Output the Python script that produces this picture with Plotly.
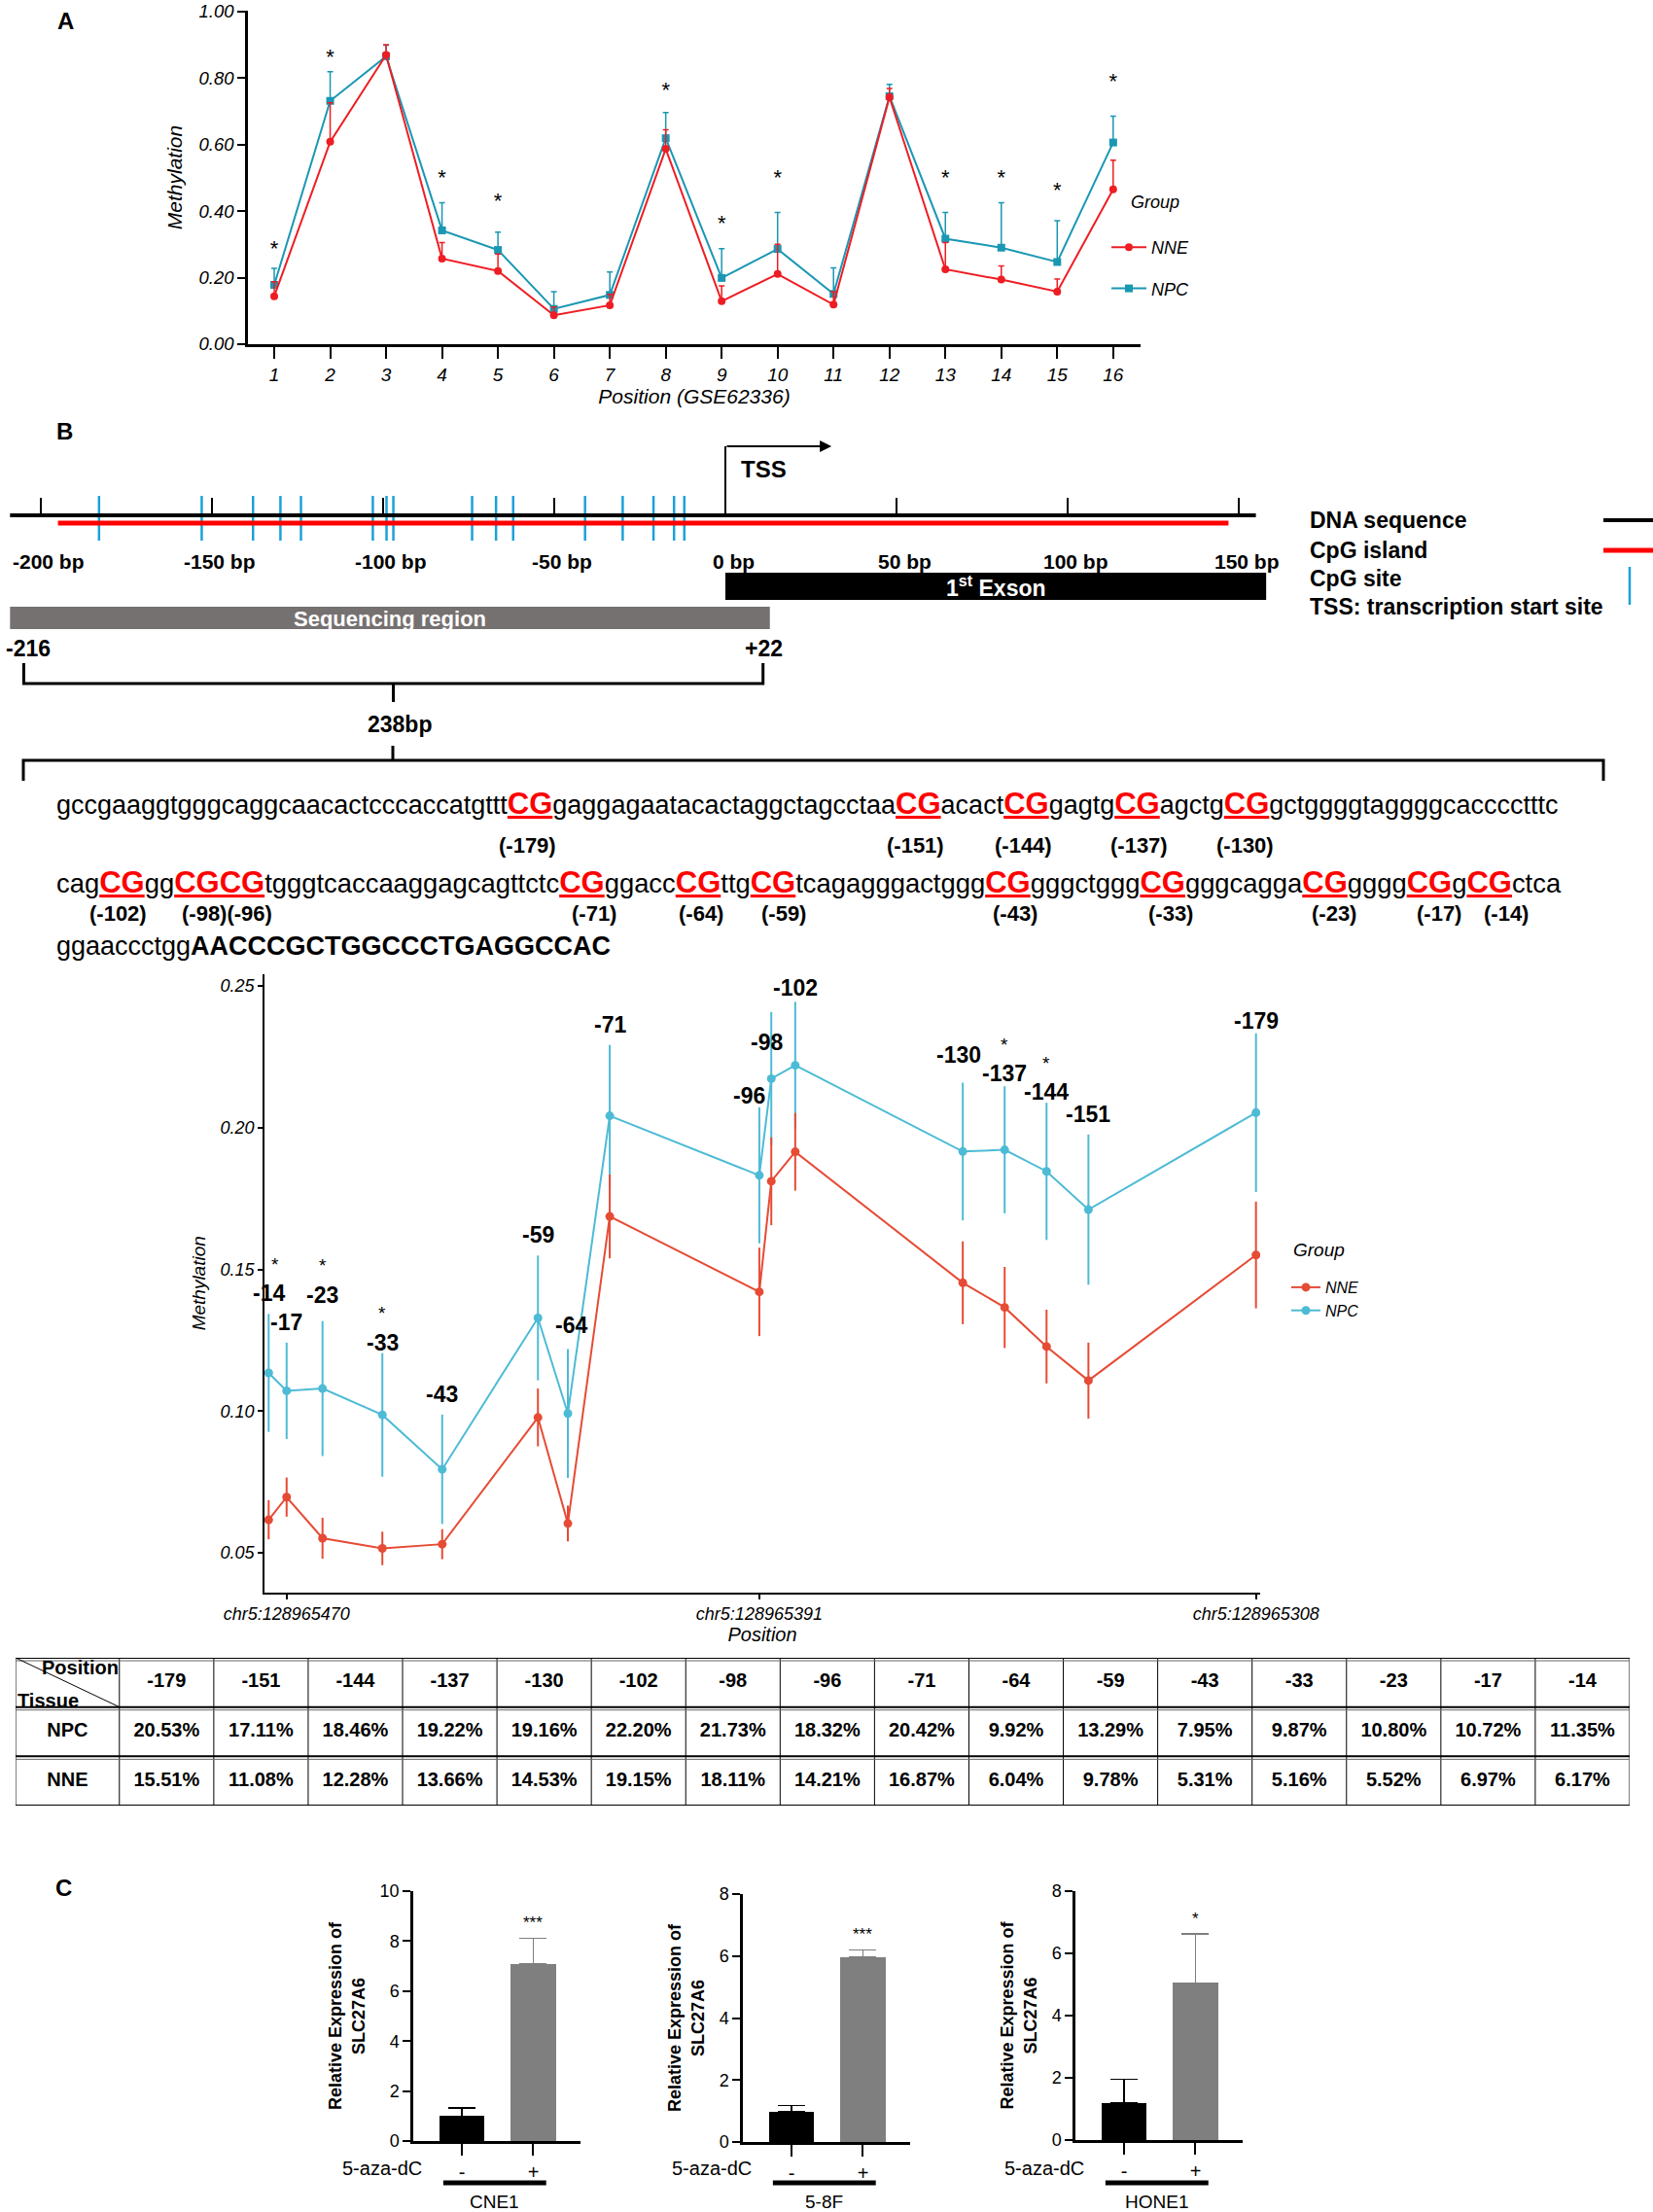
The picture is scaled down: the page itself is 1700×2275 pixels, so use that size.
import plotly.graph_objects as go

W, H = 1700, 2275
FONT = "Arial, Liberation Sans, sans-serif"

# ---------------- panel A : GSE62336 ----------------
a_pos = list(range(1, 17))
a_nne = [0.144, 0.608, 0.869, 0.257, 0.220, 0.087, 0.117, 0.587,
         0.129, 0.211, 0.119, 0.742, 0.225, 0.194, 0.158, 0.465]
a_nne_err = [0.044, 0.117, 0.031, 0.048, 0.051, 0.025, 0.033, 0.057,
             0.046, 0.089, 0.039, 0.026, 0.080, 0.041, 0.038, 0.088]
a_npc = [0.178, 0.731, 0.865, 0.342, 0.283, 0.106, 0.148, 0.619,
         0.199, 0.286, 0.151, 0.745, 0.317, 0.290, 0.247, 0.606]
a_npc_err = [0.050, 0.088, 0.033, 0.083, 0.054, 0.052, 0.069, 0.077,
             0.088, 0.110, 0.078, 0.036, 0.079, 0.135, 0.124, 0.079]
a_star_pos = [1, 2, 4, 5, 8, 9, 10, 13, 14, 15, 16]
a_star_y = [0.283, 0.858, 0.494, 0.425, 0.757, 0.358, 0.494, 0.494, 0.494, 0.456, 0.783]

# ---------------- panel B : promoter schematic (bp) ----------------
bp_ticks = [-200, -150, -100, -50, 0, 50, 100, 150]
cpg_marks = [-183, -153, -138, -130, -124, -103, -99, -97,
             -74, -67, -62, -41, -30, -21, -15, -12]
dna_span = [-209, 155]
island_span = [-195, 147]
exon_span = [0, 158]
seqregion_span = [-209, 13]
seqregion_labels = ["-216", "+22"]
tss_arrow_end = 31

seq_line1 = ["gccgaaggtgggcaggcaacactcccaccatgttt", "CG", "gaggagaatacactaggctagcctaa", "CG",
             "acact", "CG", "gagtg", "CG", "agctg", "CG", "gctggggtaggggcacccctttc"]
seq_line2 = ["cag", "CG", "gg", "CGCG", "tgggtcaccaaggagcagttctc", "CG", "ggacc", "CG", "ttg", "CG",
             "tcagagggactggg", "CG", "gggctggg", "CG", "gggcagga", "CG", "gggg", "CG", "g", "CG", "ctca"]
seq_line3 = ["ggaaccctgg", "AACCCGCTGGCCCTGAGGCCAC"]
seq_labels1 = ["(-179)", "(-151)", "(-144)", "(-137)", "(-130)"]
seq_labels2 = ["(-102)", "(-98)(-96)", "(-71)", "(-64)", "(-59)", "(-43)", "(-33)", "(-23)", "(-17)", "(-14)"]

# ---------------- panel B : methylation per CpG ----------------
b_sites = [-179, -151, -144, -137, -130, -102, -98, -96, -71, -64, -59, -43, -33, -23, -17, -14]
b_npc = [20.53, 17.11, 18.46, 19.22, 19.16, 22.20, 21.73, 18.32, 20.42, 9.92, 13.29, 7.95, 9.87, 10.80, 10.72, 11.35]
b_nne = [15.51, 11.08, 12.28, 13.66, 14.53, 19.15, 18.11, 14.21, 16.87, 6.04, 9.78, 5.31, 5.16, 5.52, 6.97, 6.17]
b_npc_err = [0.028, 0.0265, 0.0242, 0.0224, 0.0243, 0.0224, 0.0235, 0.024,
             0.025, 0.0227, 0.022, 0.0193, 0.0218, 0.0238, 0.017, 0.0208]
b_nne_err = [0.0188, 0.0134, 0.013, 0.0143, 0.0146, 0.0137, 0.0155, 0.0156,
             0.0148, 0.0063, 0.0102, 0.0053, 0.0059, 0.0072, 0.0069, 0.0069]
b_star_sites = [-14, -23, -33, -137, -144]
chr_ticks = [128965470, 128965391, 128965308]
tss_coord = 128965487

# ---------------- panel C : 5-aza-dC ----------------
c_lines = ["CNE1", "5-8F", "HONE1"]
c_ctrl = [1.0, 0.98, 1.19]
c_ctrl_err = [0.32, 0.20, 0.76]
c_aza = [7.1, 5.96, 5.05]
c_aza_err = [1.02, 0.24, 1.58]
c_sig = ["***", "***", "*"]
c_ymax = [10, 8, 8]
c_groups = ["-", "+"]

RED_A, TEAL_A = "#EE1D23", "#1A97B3"
RED_B, BLUE_B = "#E64B35", "#4DBBD5"
CPG_BLUE = "#1BA1D8"


def py(v):
    return 1 - v / H


def px(v):
    return v / W


def note(**kw):
    d = dict(showarrow=False, xanchor="center", yanchor="middle")
    d.update(kw)
    return d


fig = go.Figure()
ann = []
shapes = []

# ---- panel A traces
fig.add_trace(go.Scatter(
    x=a_pos, y=a_npc, name="NPC", mode="lines+markers", xaxis="x", yaxis="y",
    line=dict(color=TEAL_A, width=2), marker=dict(symbol="square", size=8, color=TEAL_A),
    error_y=dict(type="data", array=a_npc_err, arrayminus=[0] * 16, symmetric=False,
                 color=TEAL_A, thickness=1.5, width=3),
    legend="legend", legendgroup="a2", legendrank=2))
fig.add_trace(go.Scatter(
    x=a_pos, y=a_nne, name="NNE", mode="lines+markers", xaxis="x", yaxis="y",
    line=dict(color=RED_A, width=2), marker=dict(symbol="circle", size=8, color=RED_A),
    error_y=dict(type="data", array=a_nne_err, arrayminus=[0] * 16, symmetric=False,
                 color=RED_A, thickness=1.5, width=3),
    legend="legend", legendgroup="a1", legendrank=1))
fig.add_trace(go.Scatter(
    x=a_star_pos, y=a_star_y, mode="text", text=["*"] * len(a_star_pos), xaxis="x", yaxis="y",
    textfont=dict(family=FONT, size=22, color="black"), showlegend=False))
ann.append(note(xref="paper", yref="paper", x=px(67), y=py(22), text="A", font=dict(size=24, weight="bold")))
ann.append(note(xref="paper", yref="paper", x=px(1188), y=py(208), text="Group",
                font=dict(size=18, style="italic")))

# ---- panel B schematic (x in bp, y in page pixels)
fig.add_trace(go.Scatter(
    x=sum([[b, b, None] for b in bp_ticks], []), y=sum([[512, 530, None] for _ in bp_ticks], []),
    mode="lines", line=dict(color="black", width=2), xaxis="x2", yaxis="y2", showlegend=False))
shapes.append(dict(type="line", xref="x2", yref="y2", x0=dna_span[0], x1=dna_span[1], y0=530, y1=530,
                   line=dict(color="black", width=4)))
shapes.append(dict(type="line", xref="x2", yref="y2", x0=island_span[0], x1=island_span[1], y0=538, y1=538,
                   line=dict(color="#FF0000", width=5)))
fig.add_trace(go.Scatter(
    x=sum([[c, c, None] for c in cpg_marks], []), y=sum([[510, 556, None] for _ in cpg_marks], []),
    mode="lines", line=dict(color=CPG_BLUE, width=2.5), xaxis="x2", yaxis="y2", showlegend=False))
for b in bp_ticks:
    ann.append(note(xref="x2", yref="y2", x=b, y=577, text=f"{b} bp", xshift=8,
                    font=dict(size=21, weight="bold")))
# TSS arrow
shapes.append(dict(type="line", xref="x2", yref="y2", x0=0, x1=0, y0=528, y1=459,
                   line=dict(color="black", width=2)))
ann.append(dict(xref="x2", yref="y2", x=tss_arrow_end, y=459, ax=0, ay=459, axref="x2", ayref="y2",
                text="", showarrow=True, arrowhead=2, arrowsize=1.2, arrowwidth=2, arrowcolor="black",
                standoff=0, startstandoff=0))
ann.append(note(xref="x2", yref="y2", x=0, y=482, xanchor="left", xshift=14, text="TSS",
                font=dict(size=24, weight="bold")))
# exon and sequencing region
shapes.append(dict(type="rect", xref="x2", yref="y2", x0=exon_span[0], x1=exon_span[1], y0=589, y1=617,
                   fillcolor="black", line=dict(width=0)))
ann.append(note(xref="x2", yref="y2", x=sum(exon_span) / 2, y=603, text="1<sup>st</sup> Exson",
                font=dict(size=23, color="white", weight="bold")))
shapes.append(dict(type="rect", xref="x2", yref="y2", x0=seqregion_span[0], x1=seqregion_span[1], y0=624, y1=647,
                   fillcolor="#767171", line=dict(width=0)))
ann.append(note(xref="x2", yref="y2", x=sum(seqregion_span) / 2, y=636, text="Sequencing region",
                font=dict(size=22, color="white", weight="bold")))
ann.append(note(xref="x2", yref="y2", x=seqregion_span[0], y=667, xanchor="left", xshift=-6,
                text=seqregion_labels[0], font=dict(size=23, weight="bold")))
ann.append(note(xref="x2", yref="y2", x=seqregion_span[1], y=667, xshift=-6,
                text=seqregion_labels[1], font=dict(size=23, weight="bold")))
bl, br = seqregion_span[0] + 4, seqregion_span[1] - 2
bm = (bl + br) / 2
shapes.append(dict(type="path", xref="x2", yref="y2",
                   path=f"M {bl},682 L {bl},703 L {br},703 L {br},682 M {bm},703 L {bm},722",
                   line=dict(color="black", width=3)))
ann.append(note(xref="x2", yref="y2", x=bm, y=745, text="238bp", xshift=6, font=dict(size=23, weight="bold")))
# second brace over the sequence (page pixels)
shapes.append(dict(type="path", xref="paper", yref="paper",
                   path=f"M {px(24)},{py(803)} L {px(24)},{py(782)} L {px(1649)},{py(782)} L {px(1649)},{py(803)} "
                        f"M {px(404)},{py(782)} L {px(404)},{py(767)}",
                   line=dict(color="black", width=3)))
# schematic key
for txt, yy in [("DNA sequence", 535), ("CpG island", 566), ("CpG site", 595),
                ("TSS: transcription start site", 624)]:
    ann.append(note(xref="paper", yref="paper", x=px(1345), y=py(yy), xanchor="left", text=txt,
                    font=dict(size=23, weight="bold")))
shapes.append(dict(type="line", xref="paper", yref="paper", x0=px(1649), x1=px(1700), y0=py(535), y1=py(535),
                   line=dict(color="black", width=4)))
shapes.append(dict(type="line", xref="paper", yref="paper", x0=px(1649), x1=px(1700), y0=py(566), y1=py(566),
                   line=dict(color="#FF0000", width=5)))
shapes.append(dict(type="line", xref="paper", yref="paper", x0=px(1676), x1=px(1676), y0=py(583), y1=py(622),
                   line=dict(color=CPG_BLUE, width=2.5)))
ann.append(note(xref="paper", yref="paper", x=px(66), y=py(443), text="B", font=dict(size=24, weight="bold")))


def seq_html(parts):
    out = []
    for p in parts:
        if p.isupper() and set(p) <= {"C", "G"}:
            out.append('<span style="color:#FF0000;font-size:31px;text-decoration:underline"><b>'
                       + p + "</b></span>")
        elif p.isupper():
            out.append("<b>" + p + "</b>")
        else:
            out.append(p)
    return "".join(out)


for parts, yy, fs in [(seq_line1, 827, 27), (seq_line2, 907, 27.4), (seq_line3, 973, 27)]:
    ann.append(note(xref="paper", yref="paper", x=px(56), y=py(yy), xanchor="left",
                    text=seq_html(parts), font=dict(size=fs, color="black")))
for lab, xx in zip(seq_labels1, [542, 941, 1052, 1171, 1280]):
    ann.append(note(xref="paper", yref="paper", x=px(xx), y=py(869), text=lab, font=dict(size=22, weight="bold")))
for lab, xx in zip(seq_labels2, [121, 233, 611, 721, 806, 1044, 1204, 1372, 1480, 1549]):
    ann.append(note(xref="paper", yref="paper", x=px(xx), y=py(939), text=lab, font=dict(size=22, weight="bold")))

# ---- panel B methylation chart
b_x = [tss_coord + s for s in b_sites]
fig.add_trace(go.Scatter(
    x=b_x, y=[v / 100 for v in b_npc], name="NPC", mode="lines+markers", xaxis="x3", yaxis="y3",
    line=dict(color=BLUE_B, width=2), marker=dict(size=9, color=BLUE_B),
    error_y=dict(type="data", array=b_npc_err, color=BLUE_B, thickness=2, width=0),
    legend="legend2", legendrank=2))
fig.add_trace(go.Scatter(
    x=b_x, y=[v / 100 for v in b_nne], name="NNE", mode="lines+markers", xaxis="x3", yaxis="y3",
    line=dict(color=RED_B, width=2), marker=dict(size=9, color=RED_B),
    error_y=dict(type="data", array=b_nne_err, color=RED_B, thickness=2, width=0),
    legend="legend2", legendrank=1))
nudge = {-96: (-10, -9), -98: (-5, -52), -33: (0, -10), -102: (0, -7), -137: (0, -8),
         -144: (0, -10), -179: (0, -8), -130: (-4, 7), -23: (0, 6), -64: (3, 4)}
for s, xv, v, e in zip(b_sites, b_x, b_npc, b_npc_err):
    dx, dy = nudge.get(s, (0, 0))
    ann.append(note(xref="x3", yref="y3", x=xv, y=v / 100 + e, xshift=dx, yshift=21 + dy,
                    text=str(s), font=dict(size=23, weight="bold")))
    if s in b_star_sites:
        ann.append(note(xref="x3", yref="y3", x=xv, y=v / 100 + e,
                        xshift=dx + (7 if s == -14 else 0), yshift=21 + dy + 30,
                        text="*", font=dict(size=19)))
ann.append(note(xref="paper", yref="paper", x=px(1356), y=py(1285), text="Group",
                font=dict(size=19, style="italic")))

# ---- table
col_bounds = [0, 1.1] + [2.1 + i for i in range(16)]
col_mid = [(a + b) / 2 for a, b in zip(col_bounds[:-1], col_bounds[1:])]
fig.add_trace(go.Scatter(
    x=col_mid[1:] + col_mid, y=[0.5] * 16 + [1.5] * 17,
    text=[str(s) for s in b_sites] + ["NPC"] + [f"{v:.2f}%" for v in b_npc],
    mode="text", xaxis="x4", yaxis="y4", showlegend=False,
    textfont=dict(family=FONT, size=20, color="black", weight="bold")))
fig.add_trace(go.Scatter(
    x=col_mid, y=[2.5] * 17, text=["NNE"] + [f"{v:.2f}%" for v in b_nne],
    mode="text", xaxis="x4", yaxis="y4", showlegend=False,
    textfont=dict(family=FONT, size=20, color="black", weight="bold")))
for cb in col_bounds:
    shapes.append(dict(type="line", xref="x4", yref="y4", x0=cb, x1=cb, y0=0, y1=3,
                       line=dict(color="black", width=1)))
for rb in [0, 1, 2, 3]:
    shapes.append(dict(type="line", xref="x4", yref="y4", x0=0, x1=col_bounds[-1], y0=rb, y1=rb,
                       line=dict(color="black", width=2)))
    shapes.append(dict(type="line", xref="x4", yref="y4", x0=0, x1=col_bounds[-1], y0=rb + 0.06, y1=rb + 0.06,
                       line=dict(color="#666666", width=1)))
shapes.append(dict(type="line", xref="x4", yref="y4", x0=0, x1=1.1, y0=0, y1=1, line=dict(color="black", width=1)))
ann.append(note(xref="x4", yref="y4", x=0.68, y=0.2, text="Position", font=dict(size=20, weight="bold")))
ann.append(note(xref="x4", yref="y4", x=0.34, y=0.86, text="Tissue", font=dict(size=20, weight="bold")))

# ---- panel C
c_dom_x = [(425, 597), (764, 936), (1106, 1278)]
c_dom_y = [(2202, 1945), (2203, 1948), (2201, 1945)]
for i in range(3):
    xa, ya = f"x{5 + i}", f"y{5 + i}"
    fig.add_trace(go.Bar(x=[0], y=[c_ctrl[i]], width=0.63, marker=dict(color="black", line=dict(width=0)),
                         error_y=dict(type="data", array=[c_ctrl_err[i]], arrayminus=[0], symmetric=False,
                                      color="black", thickness=1.5, width=14),
                         xaxis=xa, yaxis=ya, showlegend=False))
    fig.add_trace(go.Bar(x=[1], y=[c_aza[i]], width=0.63, marker=dict(color="#7F7F7F", line=dict(width=0)),
                         error_y=dict(type="data", array=[c_aza_err[i]], arrayminus=[0], symmetric=False,
                                      color="#7F7F7F", thickness=1.5, width=14),
                         xaxis=xa, yaxis=ya, showlegend=False))
    ann.append(note(xref=xa, yref=ya, x=1, y=c_aza[i] + c_aza_err[i], yanchor="bottom", yshift=4,
                    text=c_sig[i], font=dict(size=17)))
    ann.append(note(xref=f"{xa} domain", yref="paper", x=0, y=py(2230), xanchor="right", xshift=11,
                    text="5-aza-dC", font=dict(size=20)))
    shapes.append(dict(type="line", xref=xa, yref="paper", x0=-0.26, x1=1.18, y0=py(2245), y1=py(2245),
                       line=dict(color="black", width=5)))
    ann.append(note(xref=xa, yref="paper", x=0.45, y=py(2264), text=c_lines[i], font=dict(size=19)))
ann.append(note(xref="paper", yref="paper", x=px(65), y=py(1941), text="C", font=dict(size=24, weight="bold")))

# ---- layout
base_ax = dict(showgrid=False, zeroline=False, showline=True, linecolor="black", ticks="outside",
               tickcolor="black", automargin=False, ticklabeloverflow="allow")
ital = dict(family=FONT, style="italic", color="black")
layout = dict(
    width=W, height=H, margin=dict(l=0, r=0, t=0, b=0, pad=0, autoexpand=False),
    paper_bgcolor="white", plot_bgcolor="white",
    font=dict(family=FONT, color="black"),
    xaxis=dict(domain=[px(255), px(1173)], range=[0.53, 16.49], anchor="y", tickvals=a_pos,
               ticklen=12, tickwidth=2, linewidth=2.5, tickfont=dict(size=19, **ital),
               title=dict(text="Position (GSE62336)", font=dict(size=21, **ital), standoff=4), **base_ax),
    yaxis=dict(domain=[py(354), py(11)], range=[0, 1.002], anchor="x", tickvals=[0, 0.2, 0.4, 0.6, 0.8, 1.0],
               tickformat=".2f", ticklen=8, tickwidth=2, linewidth=2.5, tickfont=dict(size=18.5, **ital),
               title=dict(text="Methylation", font=dict(size=21, **ital), standoff=12), **base_ax),
    xaxis2=dict(domain=[0, 1], range=[-746 / 3.52, 954 / 3.52], anchor="y2", visible=False, automargin=False),
    yaxis2=dict(domain=[py(1000), py(420)], range=[1000, 420], anchor="x2", visible=False, automargin=False),
    xaxis3=dict(domain=[px(272), px(1296)], range=[128965473.7, 128965307.3], anchor="y3",
                tickvals=chr_ticks, ticktext=[f"chr5:{c}" for c in chr_ticks], ticklen=5, tickwidth=1.5,
                linewidth=1.5, tickfont=dict(size=18, **ital),
                title=dict(text="Position", font=dict(size=20, **ital), standoff=2), **base_ax),
    yaxis3=dict(domain=[py(1638), py(1001.5)], range=[0.036, 0.2543], anchor="x3",
                tickvals=[0.05, 0.10, 0.15, 0.20, 0.25], tickformat=".2f", ticklen=5, tickwidth=1.5,
                linewidth=1.5, tickfont=dict(size=18, **ital),
                title=dict(text="Methylation", font=dict(size=19, **ital), standoff=10), **base_ax),
    xaxis4=dict(domain=[px(16), px(1676)], range=[0, 17.1], anchor="y4", visible=False, automargin=False),
    yaxis4=dict(domain=[py(1857), py(1705)], range=[3, 0], anchor="x4", visible=False, automargin=False),
    legend=dict(x=px(1138), y=py(236), xanchor="left", yanchor="top", bgcolor="rgba(0,0,0,0)",
                font=dict(size=18, **ital), tracegroupgap=16, itemwidth=36),
    legend2=dict(x=px(1323), y=py(1307), xanchor="left", yanchor="top", bgcolor="rgba(0,0,0,0)",
                 font=dict(size=16, **ital), itemwidth=30),
    annotations=ann, shapes=shapes, showlegend=True, bargap=0,
)
for i in range(3):
    xl, xr = c_dom_x[i]
    yb, yt = c_dom_y[i]
    layout[f"xaxis{5 + i}"] = dict(domain=[px(xl), px(xr)], range=[-0.68, 1.66], anchor=f"y{5 + i}",
                                   tickvals=[0, 1], ticktext=c_groups, ticklen=12, tickwidth=2, linewidth=2.5,
                                   tickfont=dict(size=20, family=FONT), **base_ax)
    layout[f"yaxis{5 + i}"] = dict(domain=[py(yb), py(yt)], range=[0, c_ymax[i]], anchor=f"x{5 + i}", dtick=2,
                                   ticklen=8, tickwidth=2, linewidth=2.5, tickfont=dict(size=18, family=FONT),
                                   title=dict(text="Relative Expression of<br>SLC27A6",
                                              font=dict(size=18, family=FONT, weight="bold"), standoff=11),
                                   **base_ax)
fig.update_layout(**layout)

fig.write_html("out.html", config={"displayModeBar": False},
               post_script="document.body.style.margin='0';document.body.style.overflow='hidden';")
